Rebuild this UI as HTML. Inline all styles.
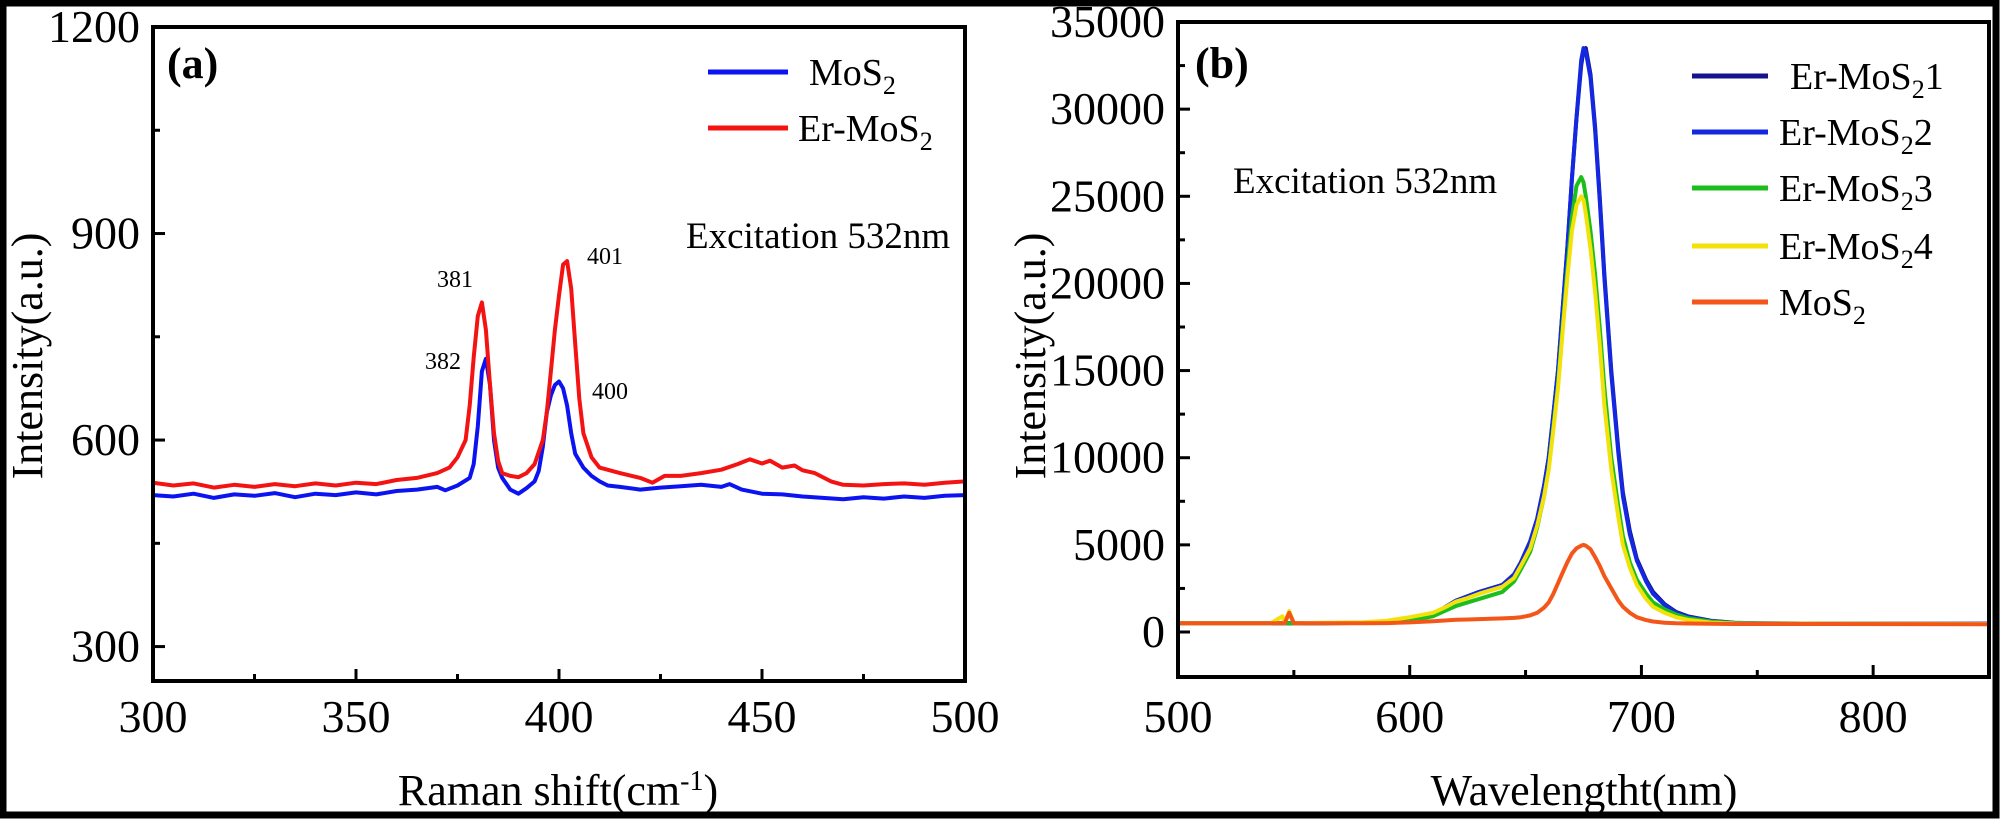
<!DOCTYPE html>
<html><head><meta charset="utf-8"><style>
html,body{margin:0;padding:0;background:#fff}
svg{display:block}
text{font-family:"Liberation Serif",serif;fill:#000}
</style></head><body>
<svg id="s" width="2000" height="820" xmlns="http://www.w3.org/2000/svg" font-family="Liberation Serif, serif">
<rect x="3" y="3" width="1993" height="812" fill="none" stroke="#000" stroke-width="7"/>
<g id="ga"></g>
<g id="gb"></g>
</svg>
<script>
// Panel (a) data
const aXTicks=[300,350,400,450,500];
const aYTicks=[300,600,900,1200];
const aMosX=[300,305,310,315,320,325,330,335,340,345,350,355,360,365,370,372,375,378,379,380,381,382,383,384,385,386,388,390,392,394,395,396,397,398,399,400,401,402,403,404,406,408,410,412,415,420,425,430,435,440,442,445,450,455,460,465,470,475,480,485,490,495,500];
const aMosY=[520,518,522,516,521,519,523,517,522,520,524,521,526,528,532,527,534,545,565,620,700,718,680,600,560,545,528,522,530,540,555,590,640,665,680,685,675,650,610,580,560,548,540,534,532,528,531,533,535,532,536,528,522,521,518,516,514,517,515,518,516,519,520];
const aErX=[300,305,310,315,320,325,330,335,340,345,350,355,360,365,370,373,375,377,378,379,380,381,382,383,384,385,386,388,390,392,394,396,397,398,399,400,401,402,403,404,405,406,408,410,415,420,423,426,430,435,440,444,447,450,452,455,458,460,463,467,470,475,480,485,490,495,500];
const aErY=[538,534,537,531,535,532,536,533,537,534,538,536,542,545,552,560,575,600,650,720,780,800,760,680,610,570,552,548,546,552,565,600,640,700,760,810,855,860,820,740,660,610,575,560,552,545,538,548,548,552,557,565,572,566,570,560,563,556,552,540,535,534,536,537,535,538,540];
// Panel (b) data
const bXTicks=[500,600,700,800];
const bYTicks=[0,5000,10000,15000,20000,25000,30000,35000];
const bX=[500,540,545,546,548,550,560,580,590,600,610,615,620,625,630,640,645,648,652,655,658,660,662,664,666,668,670,672,674,675,676,678,680,682,684,687,690,692,695,698,702,705,710,715,720,730,740,750,780,850];
const bEr1=[500,500,500,500,500,500,500,520,580,700,1000,1400,1800,2050,2300,2700,3300,4000,5200,6500,8400,10000,12500,15000,18500,22000,26000,29500,32500,33400,33500,32000,29000,25000,20500,15000,10500,8000,5800,4200,3000,2300,1600,1150,900,650,530,500,480,470];
const bEr2=[500,500,500,500,500,500,500,520,580,700,1000,1400,1800,2050,2300,2700,3300,4000,5200,6500,8400,10000,12500,15000,18500,22000,26000,29500,32800,33500,33300,31800,28800,24800,20300,14800,10300,7800,5600,4100,2900,2200,1550,1100,870,630,520,500,480,470];
const bEr3=[500,500,500,500,500,500,500,520,560,650,900,1200,1500,1700,1900,2300,2900,3600,4600,6000,7800,9400,11800,14200,17500,20800,23800,25600,26100,25800,25000,23000,20500,17500,14000,10000,7200,5500,4000,3000,2200,1700,1300,1000,800,600,510,490,470,460];
const bEr4=[500,500,900,500,1200,500,520,560,650,850,1100,1400,1750,1950,2200,2600,3100,3800,4800,6100,7800,9300,11600,14000,17200,20300,23000,24500,25000,24800,24000,22000,19500,16500,13000,9300,6600,5000,3700,2700,1900,1450,1100,850,700,540,490,480,470,460];
const bMos=[500,500,500,500,1100,500,500,500,510,550,620,660,700,720,740,780,810,850,950,1100,1400,1700,2200,2800,3400,4000,4500,4800,4950,5000,4950,4750,4300,3800,3200,2500,1800,1450,1100,850,680,600,530,500,490,470,460,460,460,450];

const NS="http://www.w3.org/2000/svg";
function mk(p,tag,at,txt){const e=document.createElementNS(NS,tag);for(const k in at)e.setAttribute(k,at[k]);if(txt!==undefined)e.textContent=txt;p.appendChild(e);return e;}

function axes(g,L,R,T,B,sx,sy,xt,yt,xminor,yminor){
  const fr=mk(g,'rect',{x:L,y:T,width:R-L,height:B-T,fill:'none',stroke:'#000','stroke-width':4});
  
  
  xt.forEach(v=>{const x=sx(v);
    const t=mk(g,'line',{x1:x,x2:x,y1:B,y2:B-12,stroke:'#000','stroke-width':3});
    
    
    const l=mk(g,'text',{x:x,y:732,'font-size':46,'text-anchor':'middle'},String(v));
    
    });
  xminor.forEach(v=>{const x=sx(v);
    const t=mk(g,'line',{x1:x,x2:x,y1:B,y2:B-7,stroke:'#000','stroke-width':3});
    
    });
  yt.forEach(v=>{const y=sy(v);
    const t=mk(g,'line',{x1:L,x2:L+12,y1:y,y2:y,stroke:'#000','stroke-width':3});
    
    
    const l=mk(g,'text',{x:L-13,y:y+15,'font-size':46,'text-anchor':'end'},String(v));
    
    });
  yminor.forEach(v=>{const y=sy(v);
    const t=mk(g,'line',{x1:L,x2:L+7,y1:y,y2:y,stroke:'#000','stroke-width':3});
    
    });
}
function series(g,xs,ys,sx,sy,color,name){
  const d=xs.map((x,i)=>(i?'L':'M')+sx(x).toFixed(1)+','+sy(ys[i]).toFixed(1)).join('');
  const p=mk(g,'path',{d:d,fill:'none',stroke:color,'stroke-width':4,'stroke-linejoin':'round'});
  
  
}
function legend(g,x1,x2,y,color,tx,label,suffix,name){
  const l=mk(g,'line',{x1:x1,x2:x2,y1:y,y2:y,stroke:color,'stroke-width':5});
  
  
  const t=mk(g,'text',{x:tx,y:y+13,'font-size':38});
  
  
  mk(t,'tspan',{},label);
  mk(t,'tspan',{dy:9,'font-size':26},'2');
  if(suffix)mk(t,'tspan',{dy:-9},suffix);
}
function txt(g,x,y,s,size,name,extra){
  const t=mk(g,'text',Object.assign({x:x,y:y,'font-size':size},extra||{}),s);
  
  
  return t;
}

// ---- panel a
const ga=document.getElementById('ga');
const aL=153,aR=965,aT=27,aB=681;
const asx=v=>aL+(v-300)/200*(aR-aL);
const asy=v=>aB-(v-250)/(1200-250)*(aB-aT);
const clipA=mk(ga,'clipPath',{id:'ca'});mk(clipA,'rect',{x:aL,y:aT,width:aR-aL,height:aB-aT});
const sa=mk(ga,'g',{'clip-path':'url(#ca)'});
series(sa,aMosX,aMosY,asx,asy,'#0b14f0','mos2-raman-line');
series(sa,aErX,aErY,asx,asy,'#f41313','er-mos2-raman-line');
axes(ga,aL,aR,aT,aB,asx,asy,aXTicks,aYTicks,[325,375,425,475],[450,750,1050]);
txt(ga,167,78,'(a)',44,'panel-a-label',{'font-weight':'bold'});
legend(ga,708,788,72,'#0b14f0',809,'MoS','', 'legend-mos2');
legend(ga,708,788,128,'#f41313',798,'Er-MoS','', 'legend-er-mos2');
txt(ga,686,248,'Excitation 532nm',37,'excitation-note-a');
txt(ga,437,287,'381',24,'peak-label-381');
txt(ga,425,369,'382',24,'peak-label-382');
txt(ga,587,264,'401',24,'peak-label-401');
txt(ga,592,399,'400',24,'peak-label-400');
const xa=txt(ga,558,805,'Raman shift(cm',44,'x-axis-title-a',{'text-anchor':'middle'});
mk(xa,'tspan',{dy:-15,'font-size':28},'-1');mk(xa,'tspan',{dy:15},')');
txt(ga,0,0,'Intensity(a.u.)',44,'y-axis-title-a',{'text-anchor':'middle',transform:'translate(42,356) rotate(-90)'});

// ---- panel b
const gb=document.getElementById('gb');
const bL=1178,bR=1989,bT=22,bB=677;
const bsx=v=>bL+(v-500)/350*(bR-bL);
const bsy=v=>632-v*(632-22)/35000;
const clipB=mk(gb,'clipPath',{id:'cb'});mk(clipB,'rect',{x:bL,y:bT,width:bR-bL,height:bB-bT});
const sb=mk(gb,'g',{'clip-path':'url(#cb)'});
series(sb,bX,bEr1,bsx,bsy,'#14148c','er-mos2-1-line');
series(sb,bX,bEr2,bsx,bsy,'#1328e0','er-mos2-2-line');
series(sb,bX,bEr3,bsx,bsy,'#1cbe1c','er-mos2-3-line');
series(sb,bX,bEr4,bsx,bsy,'#f2e20a','er-mos2-4-line');
series(sb,bX,bMos,bsx,bsy,'#f4561a','mos2-pl-line');
axes(gb,bL,bR,bT,bB,bsx,bsy,bXTicks,bYTicks,[550,650,750],[2500,7500,12500,17500,22500,27500,32500]);
txt(gb,1195,78,'(b)',44,'panel-b-label',{'font-weight':'bold'});
legend(gb,1692,1768,76,'#14148c',1790,'Er-MoS','1','legend-er-mos2-1');
legend(gb,1692,1768,132,'#1328e0',1779,'Er-MoS','2','legend-er-mos2-2');
legend(gb,1692,1768,188,'#1cbe1c',1779,'Er-MoS','3','legend-er-mos2-3');
legend(gb,1692,1768,246,'#f2e20a',1779,'Er-MoS','4','legend-er-mos2-4');
legend(gb,1692,1768,302,'#f4561a',1779,'MoS','','legend-mos2-b');
txt(gb,1233,193,'Excitation 532nm',37,'excitation-note-b');
txt(gb,1584,805,'Wavelengtht(nm)',44,'x-axis-title-b',{'text-anchor':'middle'});
txt(gb,0,0,'Intensity(a.u.)',44,'y-axis-title-b',{'text-anchor':'middle',transform:'translate(1045,356) rotate(-90)'});
</script>
</body></html>
